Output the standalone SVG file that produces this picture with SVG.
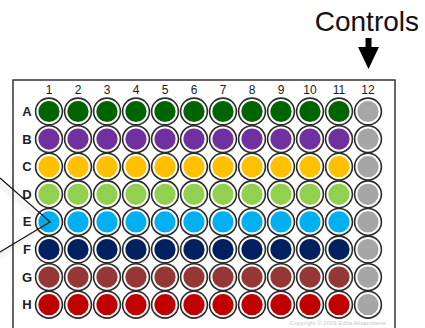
<svg xmlns="http://www.w3.org/2000/svg" width="425" height="328" viewBox="0 0 425 328">
<defs>
<style>
.ring{fill:#fff;stroke:#2b2b2b;stroke-width:1.6}
.num{font-family:"Liberation Sans",Arial,sans-serif;font-size:12px;fill:#1a1a1a;text-anchor:middle}
.row{font-family:"Liberation Sans",Arial,sans-serif;font-size:13px;font-weight:bold;fill:#222;text-anchor:middle}
.cA{fill:#006400}.cB{fill:#7030A0}.cC{fill:#FFC000}.cD{fill:#92D050}
.cE{fill:#00B0F0}.cF{fill:#002060}.cG{fill:#953735}.cH{fill:#C00000}.cK{fill:#A6A6A6}
</style>
<filter id="sh" x="-20%" y="-20%" width="140%" height="140%">
<feGaussianBlur in="SourceAlpha" stdDeviation="2.5"/>
<feOffset dx="-2" dy="4" result="b"/>
<feComponentTransfer><feFuncA type="linear" slope="0.25"/></feComponentTransfer>
<feMerge><feMergeNode/><feMergeNode in="SourceGraphic"/></feMerge>
</filter>
<g id="well"><circle class="ring" r="13.4"/></g>
</defs>
<rect width="425" height="328" fill="#fff"/>
<rect x="13" y="80" width="382" height="260" fill="#fff" stroke="#333" stroke-width="1.5"/>
<g id="controls-label">
<text x="419" y="31" font-family="'Liberation Sans',Arial,sans-serif" font-size="28" fill="#111" text-anchor="end">Controls</text>
<path d="M365.5,38 H371.5 V47 H379 L368.5,69 L358,47 H365.5 Z" fill="#000"/>
</g>
<g id="column-labels" class="num">
<text x="49" y="94" class="num">1</text><text x="78" y="94" class="num">2</text><text x="107" y="94" class="num">3</text><text x="136" y="94" class="num">4</text><text x="165" y="94" class="num">5</text><text x="194" y="94" class="num">6</text><text x="223" y="94" class="num">7</text><text x="252" y="94" class="num">8</text><text x="281" y="94" class="num">9</text><text x="310" y="94" class="num">10</text><text x="339" y="94" class="num">11</text><text x="368" y="94" class="num">12</text>
</g>
<g id="row-labels">
<text x="27" y="116" class="row">A</text><text x="27" y="143.6" class="row">B</text><text x="27" y="171.2" class="row">C</text><text x="27" y="198.8" class="row">D</text><text x="27" y="226.4" class="row">E</text><text x="27" y="254" class="row">F</text><text x="27" y="281.6" class="row">G</text><text x="27" y="309.2" class="row">H</text>
</g>
<g id="rowA" transform="translate(0,111.5)">
<use href="#well" x="49"/><use href="#well" x="78"/><use href="#well" x="107"/><use href="#well" x="136"/><use href="#well" x="165"/><use href="#well" x="194"/><use href="#well" x="223"/><use href="#well" x="252"/><use href="#well" x="281"/><use href="#well" x="310"/><use href="#well" x="339"/><use href="#well" x="368"/>
<g class="cA"><circle cx="49" r="10.6"/><circle cx="78" r="10.6"/><circle cx="107" r="10.6"/><circle cx="136" r="10.6"/><circle cx="165" r="10.6"/><circle cx="194" r="10.6"/><circle cx="223" r="10.6"/><circle cx="252" r="10.6"/><circle cx="281" r="10.6"/><circle cx="310" r="10.6"/><circle cx="339" r="10.6"/></g><circle class="cK" cx="368" r="10.6"/>
</g>
<g id="rowB" transform="translate(0,139.1)">
<use href="#well" x="49"/><use href="#well" x="78"/><use href="#well" x="107"/><use href="#well" x="136"/><use href="#well" x="165"/><use href="#well" x="194"/><use href="#well" x="223"/><use href="#well" x="252"/><use href="#well" x="281"/><use href="#well" x="310"/><use href="#well" x="339"/><use href="#well" x="368"/>
<g class="cB"><circle cx="49" r="10.6"/><circle cx="78" r="10.6"/><circle cx="107" r="10.6"/><circle cx="136" r="10.6"/><circle cx="165" r="10.6"/><circle cx="194" r="10.6"/><circle cx="223" r="10.6"/><circle cx="252" r="10.6"/><circle cx="281" r="10.6"/><circle cx="310" r="10.6"/><circle cx="339" r="10.6"/></g><circle class="cK" cx="368" r="10.6"/>
</g>
<g id="rowC" transform="translate(0,166.7)">
<use href="#well" x="49"/><use href="#well" x="78"/><use href="#well" x="107"/><use href="#well" x="136"/><use href="#well" x="165"/><use href="#well" x="194"/><use href="#well" x="223"/><use href="#well" x="252"/><use href="#well" x="281"/><use href="#well" x="310"/><use href="#well" x="339"/><use href="#well" x="368"/>
<g class="cC"><circle cx="49" r="10.6"/><circle cx="78" r="10.6"/><circle cx="107" r="10.6"/><circle cx="136" r="10.6"/><circle cx="165" r="10.6"/><circle cx="194" r="10.6"/><circle cx="223" r="10.6"/><circle cx="252" r="10.6"/><circle cx="281" r="10.6"/><circle cx="310" r="10.6"/><circle cx="339" r="10.6"/></g><circle class="cK" cx="368" r="10.6"/>
</g>
<g id="rowD" transform="translate(0,194.3)">
<use href="#well" x="49"/><use href="#well" x="78"/><use href="#well" x="107"/><use href="#well" x="136"/><use href="#well" x="165"/><use href="#well" x="194"/><use href="#well" x="223"/><use href="#well" x="252"/><use href="#well" x="281"/><use href="#well" x="310"/><use href="#well" x="339"/><use href="#well" x="368"/>
<g class="cD"><circle cx="49" r="10.6"/><circle cx="78" r="10.6"/><circle cx="107" r="10.6"/><circle cx="136" r="10.6"/><circle cx="165" r="10.6"/><circle cx="194" r="10.6"/><circle cx="223" r="10.6"/><circle cx="252" r="10.6"/><circle cx="281" r="10.6"/><circle cx="310" r="10.6"/><circle cx="339" r="10.6"/></g><circle class="cK" cx="368" r="10.6"/>
</g>
<g id="rowE" transform="translate(0,221.9)">
<use href="#well" x="49"/><use href="#well" x="78"/><use href="#well" x="107"/><use href="#well" x="136"/><use href="#well" x="165"/><use href="#well" x="194"/><use href="#well" x="223"/><use href="#well" x="252"/><use href="#well" x="281"/><use href="#well" x="310"/><use href="#well" x="339"/><use href="#well" x="368"/>
<g class="cE"><circle cx="49" r="10.6"/><circle cx="78" r="10.6"/><circle cx="107" r="10.6"/><circle cx="136" r="10.6"/><circle cx="165" r="10.6"/><circle cx="194" r="10.6"/><circle cx="223" r="10.6"/><circle cx="252" r="10.6"/><circle cx="281" r="10.6"/><circle cx="310" r="10.6"/><circle cx="339" r="10.6"/></g><circle class="cK" cx="368" r="10.6"/>
</g>
<g id="rowF" transform="translate(0,249.5)">
<use href="#well" x="49"/><use href="#well" x="78"/><use href="#well" x="107"/><use href="#well" x="136"/><use href="#well" x="165"/><use href="#well" x="194"/><use href="#well" x="223"/><use href="#well" x="252"/><use href="#well" x="281"/><use href="#well" x="310"/><use href="#well" x="339"/><use href="#well" x="368"/>
<g class="cF"><circle cx="49" r="10.6"/><circle cx="78" r="10.6"/><circle cx="107" r="10.6"/><circle cx="136" r="10.6"/><circle cx="165" r="10.6"/><circle cx="194" r="10.6"/><circle cx="223" r="10.6"/><circle cx="252" r="10.6"/><circle cx="281" r="10.6"/><circle cx="310" r="10.6"/><circle cx="339" r="10.6"/></g><circle class="cK" cx="368" r="10.6"/>
</g>
<g id="rowG" transform="translate(0,277.1)">
<use href="#well" x="49"/><use href="#well" x="78"/><use href="#well" x="107"/><use href="#well" x="136"/><use href="#well" x="165"/><use href="#well" x="194"/><use href="#well" x="223"/><use href="#well" x="252"/><use href="#well" x="281"/><use href="#well" x="310"/><use href="#well" x="339"/><use href="#well" x="368"/>
<g class="cG"><circle cx="49" r="10.6"/><circle cx="78" r="10.6"/><circle cx="107" r="10.6"/><circle cx="136" r="10.6"/><circle cx="165" r="10.6"/><circle cx="194" r="10.6"/><circle cx="223" r="10.6"/><circle cx="252" r="10.6"/><circle cx="281" r="10.6"/><circle cx="310" r="10.6"/><circle cx="339" r="10.6"/></g><circle class="cK" cx="368" r="10.6"/>
</g>
<g id="rowH" transform="translate(0,304.7)">
<use href="#well" x="49"/><use href="#well" x="78"/><use href="#well" x="107"/><use href="#well" x="136"/><use href="#well" x="165"/><use href="#well" x="194"/><use href="#well" x="223"/><use href="#well" x="252"/><use href="#well" x="281"/><use href="#well" x="310"/><use href="#well" x="339"/><use href="#well" x="368"/>
<g class="cH"><circle cx="49" r="10.6"/><circle cx="78" r="10.6"/><circle cx="107" r="10.6"/><circle cx="136" r="10.6"/><circle cx="165" r="10.6"/><circle cx="194" r="10.6"/><circle cx="223" r="10.6"/><circle cx="252" r="10.6"/><circle cx="281" r="10.6"/><circle cx="310" r="10.6"/><circle cx="339" r="10.6"/></g><circle class="cK" cx="368" r="10.6"/>
</g>
<g id="connectors" filter="url(#sh)">
<polyline points="0,178 50,221.9 0,252" fill="none" stroke="#111" stroke-width="1.2"/>
</g>
<text x="386" y="325" font-family="'Liberation Sans',Arial,sans-serif" font-size="6" fill="#c8c8c8" text-anchor="end">Copyright © 2009 Edita Aksamitiene</text>
</svg>
